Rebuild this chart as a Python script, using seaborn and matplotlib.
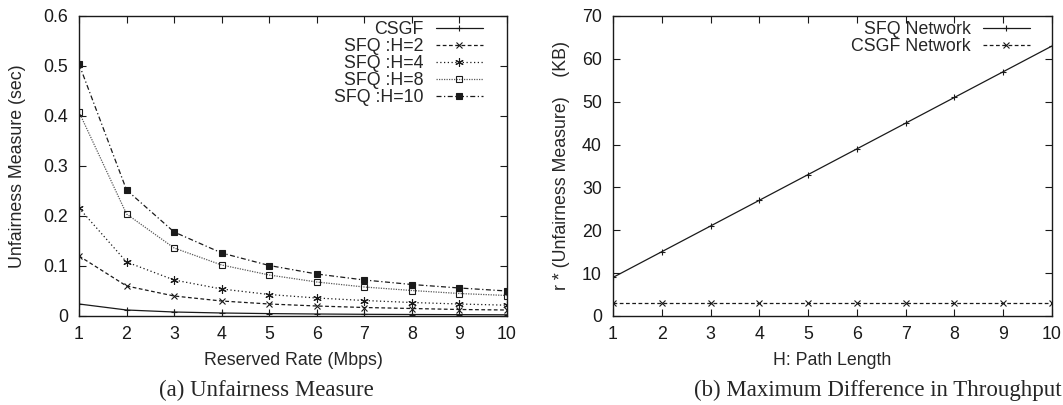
import matplotlib
matplotlib.use("Agg")
import matplotlib.pyplot as plt
import seaborn as sns
import numpy as np

sns.set_theme(style="ticks")
plt.rcParams['font.family'] = ['Liberation Sans', 'DejaVu Sans']

# ---- data (a) ----
rate = [1, 2, 3, 4, 5, 6, 7, 8, 9, 10]
csgf = [0.024, 0.012, 0.008, 0.006, 0.0048, 0.004, 0.0034, 0.003, 0.0027, 0.0024]
sfq_h2 = [0.12, 0.06, 0.04, 0.03, 0.024, 0.02, 0.017, 0.015, 0.013, 0.012]
sfq_h4 = [0.216, 0.108, 0.072, 0.054, 0.043, 0.036, 0.031, 0.027, 0.024, 0.0216]
sfq_h8 = [0.408, 0.204, 0.136, 0.102, 0.082, 0.068, 0.058, 0.051, 0.045, 0.041]
sfq_h10 = [0.504, 0.252, 0.168, 0.126, 0.101, 0.084, 0.072, 0.063, 0.056, 0.050]

# ---- data (b) ----
path_len = [1, 2, 3, 4, 5, 6, 7, 8, 9, 10]
sfq_net = [9, 15, 21, 27, 33, 39, 45, 51, 57, 63]
csgf_net = [3, 3, 3, 3, 3, 3, 3, 3, 3, 3]

FS = 12.8
W, H = 1063, 405
fig = plt.figure(figsize=(W / 100, H / 100), dpi=100)
ax1 = fig.add_axes([79 / W, 1 - 316 / H, 428 / W, 300 / H])
ax2 = fig.add_axes([613 / W, 1 - 316 / H, 439 / W, 300 / H])

lw = 0.9
series_a = [
    ("CSGF", csgf, "-", "+", "k", 5, "k"),
    ("SFQ :H=2", sfq_h2, (0, (3, 2)), "x", "k", 4, "k"),
    ("SFQ :H=4", sfq_h4, (0, (1, 2)), (6, 2, 0), "k", 6, "k"),
    ("SFQ :H=8", sfq_h8, (0, (1, 1)), "s", "0.35", 5, "none"),
    ("SFQ :H=10", sfq_h10, (0, (4, 2, 1, 2)), "s", "k", 5, "k"),
]
for lab, ys, ls, mk, col, ms, mfc in series_a:
    sns.lineplot(x=rate, y=ys, ax=ax1, color=col, linestyle=ls, marker=mk,
                 markersize=ms, markerfacecolor=mfc, markeredgecolor="k",
                 markeredgewidth=0.8, linewidth=lw, label=lab)

sns.lineplot(x=path_len, y=sfq_net, ax=ax2, color="k", linestyle="-", marker="+",
             markersize=5, markeredgecolor="k", markeredgewidth=0.8, linewidth=lw,
             label="SFQ Network")
sns.lineplot(x=path_len, y=csgf_net, ax=ax2, color="k", linestyle=(0, (3, 2)), marker="x",
             markersize=4, markeredgecolor="k", markeredgewidth=0.8, linewidth=lw,
             label="CSGF Network")

ax1.set_xlim(1, 10)
ax1.set_ylim(0, 0.6)
ax1.set_xticks(range(1, 11))
ax1.set_yticks([0, 0.1, 0.2, 0.3, 0.4, 0.5, 0.6])
ax1.set_yticklabels(["0", "0.1", "0.2", "0.3", "0.4", "0.5", "0.6"])
ax1.set_xlabel("Reserved Rate (Mbps)", fontsize=FS, labelpad=7)
ax1.set_ylabel("Unfairness Measure (sec)", fontsize=FS, labelpad=12)

ax2.set_xlim(1, 10)
ax2.set_ylim(0, 70)
ax2.set_xticks(range(1, 11))
ax2.set_yticks(range(0, 71, 10))
ax2.set_xlabel("H: Path Length", fontsize=FS, labelpad=7)
ax2.set_ylabel("r * (Unfairness Measure)    (KB)", fontsize=FS, labelpad=9)

for ax, dx in ((ax1, 24 / 428), (ax2, 22 / 439)):
    for s in ax.spines.values():
        s.set_visible(True)
        s.set_linewidth(1.0)
        s.set_color("k")
    ax.tick_params(direction="in", top=True, right=True, length=5, width=0.8,
                   labelsize=FS, colors="k")
    ax.tick_params(axis="y", pad=8)
    ax.tick_params(axis="x", pad=7)
    ax.grid(False)
    leg = ax.legend(loc="upper right", bbox_to_anchor=(1 - dx, 1 - 5 / 300),
                    frameon=False, markerfirst=False, fontsize=FS,
                    handlelength=2.65, handletextpad=0.67, labelspacing=0.0,
                    borderaxespad=0.0, borderpad=0.0)
    for col in leg._legend_handle_box.get_children():
        col.align = "right"

fig.text(266 / W, 1 - 390 / H, "(a) Unfairness Measure", ha="center", va="center",
         fontsize=16.5, family=["Liberation Serif", "DejaVu Serif"])
fig.text(878 / W, 1 - 390 / H, "(b) Maximum Difference in Throughput", ha="center", va="center",
         fontsize=16.5, family=["Liberation Serif", "DejaVu Serif"])

fig.savefig("out.png", dpi=100)
